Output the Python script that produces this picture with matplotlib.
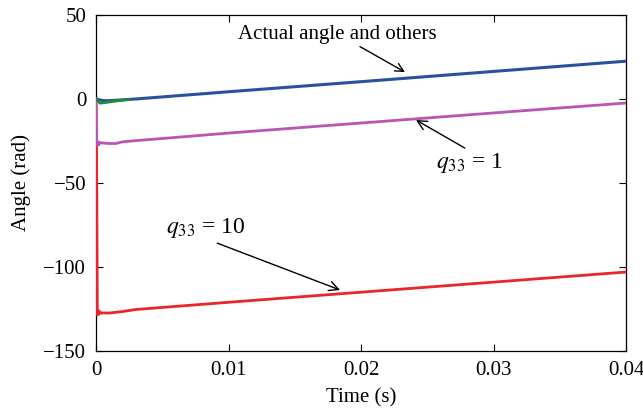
import matplotlib
matplotlib.use("Agg")
import matplotlib.pyplot as plt

plt.rcParams['font.family'] = ['Liberation Serif', 'DejaVu Serif']
plt.rcParams['mathtext.fontset'] = 'stix'

# Simulated angle trajectories (time in s, angle in rad)
t_actual = [0.0, 0.0005, 0.001, 0.002, 0.003, 0.01, 0.02, 0.03, 0.04]
angle_actual = [0.0, -1.0, -1.0, -0.5, 0.0, 4.3, 10.3, 16.4, 22.5]

t_other = [0.0, 0.0003, 0.0008, 0.0015, 0.0025]
angle_other = [0.0, -2.5, -2.0, -1.2, -0.3]

t_q1 = [0.0, 0.00005, 0.0002, 0.001, 0.0015, 0.002, 0.003, 0.01, 0.02, 0.03, 0.04]
angle_q1 = [0.0, -26.0, -26.0, -26.5, -26.5, -25.5, -24.8, -20.3, -14.3, -8.3, -2.4]

t_q10 = [0.0, 0.00005, 0.0001, 0.0003, 0.001, 0.002, 0.003, 0.01, 0.02, 0.03, 0.04]
angle_q10 = [0.0, -40.0, -127.0, -127.3, -127.4, -126.5, -125.3, -121.0, -115.0, -109.0, -103.0]

x_ticks = [0, 0.01, 0.02, 0.03, 0.04]
x_tick_labels = ['0', '0.01', '0.02', '0.03', '0.04']
y_ticks = [-150, -100, -50, 0, 50]
y_tick_labels = ['\u2212150', '\u2212100', '\u221250', '0', '50']

fig = plt.figure(figsize=(6.43, 4.15), dpi=100)
ax = fig.add_axes([0.1493, 0.1542, 0.8243, 0.8097])

ax.plot(t_q10, angle_q10, color='#e8262b', lw=2.0, zorder=3)
ax.plot(t_q1, angle_q1, color='#bb55b4', lw=2.0, zorder=3)
ax.plot(t_actual, angle_actual, color='#2c50a0', lw=2.2, zorder=4)
ax.plot(t_other, angle_other, color='#1d8a3c', lw=2.0, zorder=5)
ax.plot([0.00005], [-127], 'o', color='#e8262b', ms=4, zorder=3)
ax.plot([0.00005], [-26], 'o', color='#bb55b4', ms=3.5, zorder=3)

ax.set_xlim(0, 0.04)
ax.set_ylim(-150, 50)
ax.set_xticks(x_ticks)
ax.set_xticklabels(x_tick_labels)
ax.set_yticks(y_ticks)
ax.set_yticklabels(y_tick_labels)
ax.tick_params(direction='in', top=True, right=True, labelsize=15, length=5, width=0.8, pad=7)
for s in ax.spines.values():
    s.set_linewidth(0.9)

ax.set_xlabel('Time (s)', fontsize=15, labelpad=6)
ax.set_ylabel('Angle (rad)', fontsize=15, labelpad=9)

arrow = dict(arrowstyle='->', color='black', lw=1.0, shrinkA=0, shrinkB=0)
ax.annotate('Actual angle and others', xy=(0.02332, 16.0), xytext=(0.0182, 38.5),
            fontsize=15, ha='center', va='center',
            arrowprops=dict(arrow, relpos=(0.59, 0.0)))
ax.annotate('$q_{33}$ = 1', xy=(0.02415, -12.5), xytext=(0.0282, -38.0),
            fontsize=17, ha='center', va='center',
            arrowprops=dict(arrow, relpos=(0.5, 1.0)))
ax.annotate('$q_{33}$ = 10', xy=(0.01842, -113.7), xytext=(0.0083, -77.0),
            fontsize=17, ha='center', va='center',
            arrowprops=dict(arrow, relpos=(0.55, 0.0)))

fig.savefig('out.png', dpi=100)
